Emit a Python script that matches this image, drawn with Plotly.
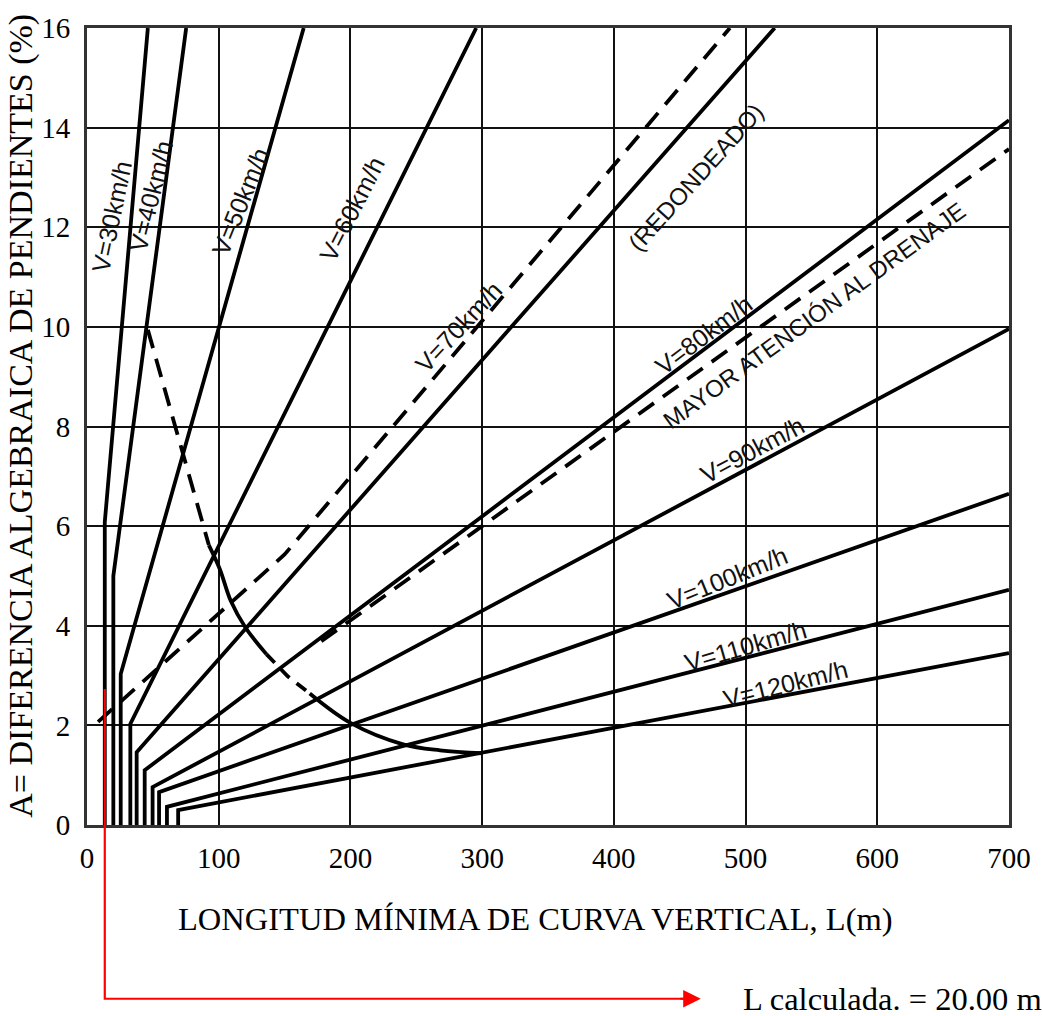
import plotly.graph_objects as go

# ---------------- data ----------------
speeds = [30, 40, 50, 60, 70, 80, 90, 100, 110, 120]
L_knee = [13.5, 20.0, 25.6, 32.9, 37.7, 43.8, 49.8, 54.7, 60.7, 69.2]
A_knee = [6.08, 5.0, 3.03, 2.03, 1.46, 1.10, 0.76, 0.66, 0.365, 0.30]
L_end = [46.2, 75.3, 164.5, 295.5, 522.1, 700, 700, 700, 700, 700]
A_end = [16, 16, 16, 16, 16, 14.15, 9.96, 6.65, 4.72, 3.45]

label_text = ["V=30km/h", "V=40km/h", "V=50km/h", "V=60km/h", "V=70km/h",
              "V=80km/h", "V=90km/h", "V=100km/h", "V=110km/h", "V=120km/h"]
label_L = [18.5, 48.4, 116.2, 201.0, 282.0, 468.0, 505.0, 486.0, 500.0, 530.0]
label_A = [12.21, 12.63, 12.51, 12.37, 10.0, 9.84, 7.52, 4.95, 3.59, 2.83]
label_angle = [-78, -76, -68, -63, -47, -37, -28, -22, -16, -14]

# minimum curve (dashed / solid pieces)
curve_dash1_L = [46.2, 72.9, 92.5]
curve_dash1_A = [9.94, 7.48, 5.62]
curve_solid1_L = [92.5, 100.8, 109.3, 120.4, 136.2]
curve_solid1_A = [5.62, 5.14, 4.49, 3.96, 3.43]
curve_dash2_L = [136.2, 152.2, 169.1]
curve_dash2_A = [3.43, 2.99, 2.64]
curve_solid2_L = [169.1, 200.0, 240.0, 268.0, 300.0]
curve_solid2_A = [2.64, 2.05, 1.62, 1.50, 1.44]

# dashed limit lines
round_L = [8.4, 150.0, 488.1]
round_A = [2.07, 5.43, 16.0]
drain_L = [177.9, 700.0]
drain_A = [3.69, 13.57]

other_text = ["(REDONDEADO)", "MAYOR ATENCIÓN AL DRENAJE"]
other_L = [462.0, 552.0]
other_A = [13.0, 10.23]
other_angle = [-48, -36]

# red marker of the computed length
red_L = 13.5
red_A = 2.73
arrow_end_L = 466.0
red_caption = "L calculada. = 20.00 m"

x_ticks = [0, 100, 200, 300, 400, 500, 600, 700]
y_ticks = [0, 2, 4, 6, 8, 10, 12, 14, 16]
x_range = [0, 700]
y_range = [0, 16]

# ---------------- figure ----------------
fig = go.Figure()
black = "#000000"
LW = 3.8

for i, v in enumerate(speeds):
    fig.add_trace(go.Scatter(
        x=[L_knee[i], L_knee[i], L_end[i]],
        y=[0, A_knee[i], A_end[i]],
        mode="lines", line=dict(color=black, width=LW),
        showlegend=False, hoverinfo="skip"))

dash = "19px,11px"
fig.add_trace(go.Scatter(x=round_L, y=round_A, mode="lines",
                         line=dict(color=black, width=LW, dash=dash),
                         showlegend=False, hoverinfo="skip"))
fig.add_trace(go.Scatter(x=drain_L, y=drain_A, mode="lines",
                         line=dict(color=black, width=LW, dash=dash),
                         showlegend=False, hoverinfo="skip"))
fig.add_trace(go.Scatter(x=curve_dash1_L, y=curve_dash1_A, mode="lines",
                         line=dict(color=black, width=LW, dash=dash),
                         showlegend=False, hoverinfo="skip"))
fig.add_trace(go.Scatter(x=curve_solid1_L, y=curve_solid1_A, mode="lines",
                         line=dict(color=black, width=LW, shape="spline"),
                         showlegend=False, hoverinfo="skip"))
fig.add_trace(go.Scatter(x=curve_dash2_L, y=curve_dash2_A, mode="lines",
                         line=dict(color=black, width=LW, dash="12px,9px"),
                         showlegend=False, hoverinfo="skip"))
fig.add_trace(go.Scatter(x=curve_solid2_L, y=curve_solid2_A, mode="lines",
                         line=dict(color=black, width=LW, shape="spline"),
                         showlegend=False, hoverinfo="skip"))

sans = "Liberation Sans, Arial, sans-serif"
annotations = []
for t, x, y, a in zip(label_text, label_L, label_A, label_angle):
    annotations.append(dict(x=x, y=y, xref="x", yref="y", text=t, textangle=a,
                            showarrow=False,
                            font=dict(family=sans, size=25, color="#111111")))
for t, x, y, a in zip(other_text, other_L, other_A, other_angle):
    annotations.append(dict(x=x, y=y, xref="x", yref="y", text=t, textangle=a,
                            showarrow=False,
                            font=dict(family=sans, size=24, color="#111111")))

serif = "Liberation Serif, Times New Roman, serif"
# axis titles
annotations.append(dict(x=0.486, y=-0.1185, xref="paper", yref="paper",
                        xanchor="center", yanchor="middle",
                        text="LONGITUD MÍNIMA DE CURVA VERTICAL, L(m)",
                        showarrow=False, font=dict(family=serif, size=32.5, color=black)))
annotations.append(dict(x=-0.0724, y=0.5137, xref="paper", yref="paper",
                        xanchor="center", yanchor="middle",
                        text="A= DIFERENCIA ALGEBRAICA DE PENDIENTES (%)",
                        textangle=-90, showarrow=False,
                        font=dict(family=serif, size=34, color=black)))

# red computed-length marker
y_bottom_paper = -0.218
red_top_paper = (red_A - y_range[0]) / (y_range[1] - y_range[0])
fig.add_shape(type="path", xref="x", yref="paper",
              path=f"M {red_L} {red_top_paper} L {red_L} {y_bottom_paper} L {arrow_end_L - 8} {y_bottom_paper}",
              line=dict(color="#ff0000", width=2.2))
annotations.append(dict(x=arrow_end_L, y=y_bottom_paper, xref="x", yref="paper",
                        ax=-22, ay=0, text="", showarrow=True, arrowhead=2,
                        arrowsize=1.6, arrowwidth=2.2, arrowcolor="#ff0000"))
annotations.append(dict(x=0.7095, y=y_bottom_paper, xref="paper", yref="paper",
                        text=red_caption, xanchor="left", yanchor="middle",
                        showarrow=False, font=dict(family=serif, size=32.5, color=black)))

fig.update_layout(
    width=1043, height=1016,
    margin=dict(l=87, r=30, t=23, b=191),
    paper_bgcolor="white", plot_bgcolor="white",
    showlegend=False,
    annotations=annotations,
    xaxis=dict(range=x_range, tickvals=x_ticks, ticks="", showgrid=True,
               gridcolor="#111111", gridwidth=2, zeroline=False,
               showline=True, linecolor="#333333", linewidth=3, mirror=True,
               tickfont=dict(family=serif, size=29, color=black),
               ticklabelstandoff=5, fixedrange=True),
    yaxis=dict(range=y_range, tickvals=y_ticks, ticks="", showgrid=True,
               gridcolor="#111111", gridwidth=2, zeroline=False,
               showline=True, linecolor="#333333", linewidth=3, mirror=True,
               tickfont=dict(family=serif, size=29, color=black),
               ticklabelstandoff=8, fixedrange=True),
)

fig.write_html("out.html")
